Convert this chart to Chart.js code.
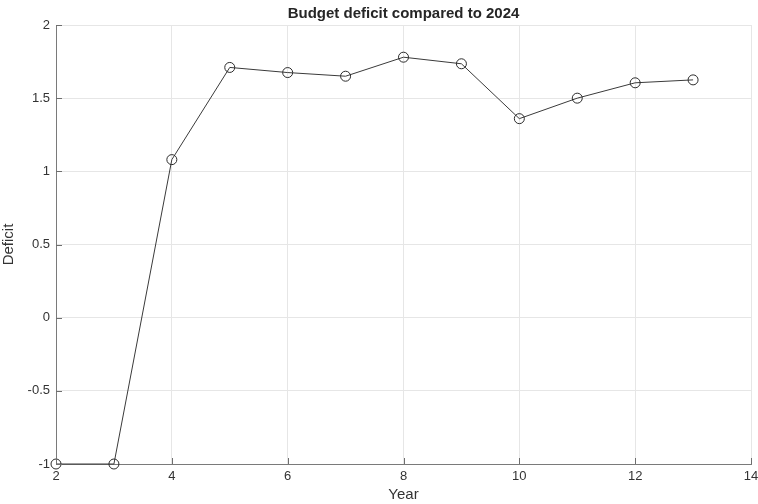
<!DOCTYPE html>
<html>
<head>
<meta charset="utf-8">
<script src="https://cdn.jsdelivr.net/npm/chart.js@4/dist/chart.umd.min.js"></script>
<style>
  html, body { margin: 0; padding: 0; background: #fff; }
  #wrap { width: 758px; height: 504px; }
</style>
</head>
<body>
<div id="wrap"><canvas id="myChart" width="758" height="504"></canvas></div>
<script>
var years = [2, 3, 4, 5, 6, 7, 8, 9, 10, 11, 12, 13];
var deficit = [-1, -1, 1.08, 1.71, 1.675, 1.65, 1.78, 1.735, 1.36, 1.5, 1.605, 1.625];
var xTicks = [2, 4, 6, 8, 10, 12, 14];
var yTicks = [-1, -0.5, 0, 0.5, 1, 1.5, 2];
var chartTitle = "Budget deficit compared to 2024";

var font = "'Liberation Sans', Arial, sans-serif";

// matlab style: inward ticks + title centred on the axes
var matlabBits = {
  id: "matlabBits",
  afterDraw: function (chart) {
    var c = chart.ctx, a = chart.chartArea;
    var xs = chart.scales.x, ys = chart.scales.y;
    c.save();
    c.strokeStyle = "#6e6e6e";
    c.lineWidth = 1;
    c.beginPath();
    xTicks.forEach(function (t) {
      var px = Math.round(xs.getPixelForValue(t)) + 0.5;
      c.moveTo(px, a.bottom);
      c.lineTo(px, a.bottom - 6);
    });
    yTicks.forEach(function (t) {
      var py = Math.round(ys.getPixelForValue(t)) + 0.5;
      c.moveTo(a.left, py);
      c.lineTo(a.left + 6, py);
    });
    c.stroke();
    c.fillStyle = "#262626";
    c.font = "bold 15px " + font;
    c.textAlign = "center";
    c.textBaseline = "middle";
    c.fillText(chartTitle, (a.left + a.right) / 2, 14);
    c.restore();
  }
};

var ctx = document.getElementById("myChart");

var myChart = new Chart(ctx, {
  type: "line",
  data: {
    datasets: [
      {
        label: "Deficit",
        data: years.map(function (y, i) { return { x: y, y: deficit[i] }; }),
        borderColor: "#3a3a3a",
        borderWidth: 1,
        pointStyle: "circle",
        pointRadius: 5,
        pointBorderWidth: 1,
        pointBorderColor: "#2a2a2a",
        pointBackgroundColor: "rgba(0,0,0,0)",
        tension: 0,
        clip: false
      }
    ]
  },
  options: {
    responsive: false,
    animation: false,
    layout: { padding: { top: 25, right: 7, left: 0, bottom: 0 } },
    plugins: {
      legend: { display: false },
      tooltip: { enabled: false },
      title: { display: false }
    },
    scales: {
      x: {
        type: "linear",
        min: 2,
        max: 14,
        afterFit: function (s) { s.height = 40; s.paddingRight = 0; s.paddingLeft = 0; },
        afterBuildTicks: function (s) { s.ticks = xTicks.map(function (v) { return { value: v }; }); },
        grid: { color: "#e6e6e6", drawTicks: false },
        border: { color: "#7a7a7a" },
        ticks: {
          color: "#333",
          font: { family: font, size: 13 },
          padding: 5,
          callback: function (v) { return String(v); }
        },
        title: {
          display: true,
          text: "Year",
          color: "#333",
          font: { family: font, size: 15 },
          padding: { top: 0, bottom: 0 }
        }
      },
      y: {
        min: -1,
        max: 2,
        afterFit: function (s) { s.width = 56; s.paddingTop = 0; s.paddingBottom = 0; },
        afterBuildTicks: function (s) { s.ticks = yTicks.map(function (v) { return { value: v }; }); },
        grid: { color: "#e6e6e6", drawTicks: false },
        border: { color: "#7a7a7a" },
        ticks: {
          color: "#333",
          font: { family: font, size: 13 },
          padding: 6,
          callback: function (v) { return String(v); }
        },
        title: {
          display: true,
          text: "Deficit",
          color: "#333",
          font: { family: font, size: 15 },
          padding: { top: 0, bottom: 4 }
        }
      }
    }
  },
  plugins: [matlabBits]
});
</script>
</body>
</html>
